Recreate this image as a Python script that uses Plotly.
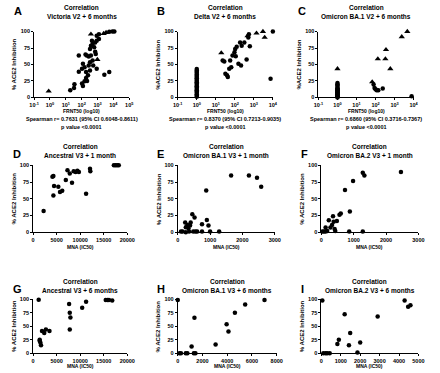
import plotly.graph_objects as go

# ---------------- DATA ----------------
# A: Victoria V2 + 6 months (FRNT50 vs % ACE2 inhibition)
victoria_circ_x = [19, 33, 35, 120, 105, 152, 220, 66, 66, 120, 105, 152, 190, 190, 251, 335, 335, 278,
                   490, 535, 890, 175, 210, 278, 385, 335, 385, 490, 615, 710, 775, 445, 890, 1230, 710,
                   890, 1230, 5490, 8700, 11500, 2700, 5490]
victoria_circ_y = [11, 14.5, 20, 17.5, 21, 24.5, 25, 39, 63.5, 51, 43.5, 46, 38.5, 29.5, 33.5, 41, 53.5, 48.5,
                   56, 48.5, 43.5, 65, 63.5, 62, 63.5, 73.5, 78.5, 81, 76, 69.5, 66, 86, 86, 88.5, 83.5,
                   93.5, 96, 99.5, 100, 100, 34.5, 38.5]
victoria_tri_x = [0.83, 980, 385, 2450, 3470]
victoria_tri_y = [9.5, 57.5, 96, 97, 98.5]

# B: Delta V2 + 6 months
delta_circ_x = [1] * 22 + [23, 28, 32, 39, 43, 51, 65, 57, 76, 96, 105, 126, 112, 155, 213, 190, 230, 316,
                            417, 513, 550, 616, 7590, 10000]
delta_circ_y = [1, 3, 5, 7, 9, 11, 13, 15, 17, 19, 21, 23, 25, 27, 29, 31, 33, 35, 37, 39, 41, 43,
                56, 54.5, 36, 33.5, 31, 43.5, 46, 56, 63.5, 68.5, 73.5, 77, 62.5, 51, 48.5, 83.5, 78.5, 83.5,
                57.5, 91, 96, 77.5, 28.5, 100]
delta_tri_x = [19.5, 468, 1380, 3020, 3720]
delta_tri_y = [67.5, 93.5, 97.5, 100, 91]

# C: Omicron BA.1 V2 + 6 months
ba1v2_circ_x = [1] * 19 + [79, 89, 100, 115, 140, 240, 7900]
ba1v2_circ_y = [0, 1, 2, 3, 4, 5, 6, 7, 8, 9, 10, 11, 12, 13, 14, 16, 18, 20, 22,
                19.5, 14.5, 12.5, 11, 11, 13.5, 2]
ba1v2_tri_x = [1, 67, 132, 330, 355, 600, 2400, 4700]
ba1v2_tri_y = [43.5, 23.5, 58.5, 58.5, 72.5, 43.5, 92, 100]

# D: Ancestral V3 + 1 month (MNA IC50)
anc1_x = [2222, 4100, 4300, 4440, 4300, 5350, 5700, 6180, 6940, 7290, 7780, 8260, 8610, 9030, 9720, 9400,
          11250, 12080, 12150, 17150, 17500, 17850, 18190]
anc1_y = [31.7, 83, 84, 69, 55, 68, 60, 62, 78, 92.7, 87.8, 74, 91, 90, 90, 92, 57.5, 95, 91, 100, 100, 100, 100]

# E: Omicron BA.1 V3 + 1 month
ba1m1_x = [100, 150, 250, 350, 230, 250, 300, 330, 380, 400, 450, 520, 480, 550, 600, 750, 880, 900, 950,
           1000, 750, 1280, 1650, 2200, 2450, 2580]
ba1m1_y = [1, 1, 0, 1, 14.6, 7.3, 11, 6, 10, 14.6, 27, 22, 1, 1, 1, 12, 62.4, 18.5, 10, 1, 1, 1, 85, 85, 81.5, 68]

# F: Omicron BA.2 V3 + 1 month
ba2m1_x = [30, 80, 130, 180, 130, 230, 280, 330, 360, 380, 410, 430, 480, 560, 600, 730, 880, 860, 980,
           1280, 1330, 1280, 2460]
ba2m1_y = [1, 1, 1, 2, 7, 18, 7, 10.7, 24, 15.6, 5, 2, 17, 26, 28, 63, 31, 1, 76.6, 88.8, 85, 1, 90]

# G: Ancestral V3 + 6 months
anc6_x = [1180, 1390, 1530, 1670, 1390, 1880, 2360, 2710, 3470, 7640, 7780, 7920, 7780, 10420, 11250,
          15420, 15800, 16100, 16800]
anc6_y = [99, 23, 20, 15, 25, 41, 37.5, 44, 41, 91, 75, 66, 44, 84, 95, 98.5, 98.5, 98.5, 97.5]

# H: Omicron BA.1 V3 + 6 months
ba1m6_x = [0, 130, 260, 650, 780, 1300, 1430, 1120, 1350, 3060, 3950, 4100, 4620, 5450, 7010]
ba1m6_y = [98.5, 0, 0, 0, 0, 0, 0, 12.6, 65.7, 16, 53.5, 40.4, 74.7, 90, 98.5]

# I: Omicron BA.2 V3 + 6 months
ba2m6_x = [50, 100, 220, 300, 430, 825, 900, 1200, 1420, 1485, 1860, 2000, 2900, 4290, 4470, 4590]
ba2m6_y = [97.5, 0, 0, 0, 0, 17, 25, 72, 15, 37.4, 1.5, 20, 68, 97.5, 86, 88.7]

panel_letters = ["A", "B", "C", "D", "E", "F", "G", "H", "I"]
panel_subtitles = ["Victoria V2 + 6 months", "Delta V2 + 6 months", "Omicron BA.1 V2 + 6 months",
                   "Ancestral V3 + 1 month", "Omicron BA.1 V3 + 1 month", "Omicron BA.2 V3 + 1 month",
                   "Ancestral V3 + 6 months", "Omicron BA.1 V3 + 6 months", "Omicron BA.2 V3 + 6 months"]
y_titles = ["% ACE2 Inhibition", "%ACE2 Inhibition", "%ACE2 Inhibition"] + ["% ACE2 Inhibition"] * 6
spearman_texts = ["Spearman r= 0.7631 (95% CI 0.6048-0.8611)",
                  "Spearman r= 0.8370 (95% CI 0.7213-0.9035)",
                  "Spearman r= 0.6860 (95% CI 0.3716-0.7367)"]
p_text = "p value <0.0001"
y_ticks = [0, 25, 50, 75, 100]
log_tickvals = [0.1, 1, 10, 100, 1000, 10000, 100000]
log_ticktext = ["10<sup>-1</sup>", "10<sup>0</sup>", "10<sup>1</sup>", "10<sup>2</sup>",
                "10<sup>3</sup>", "10<sup>4</sup>", "10<sup>5</sup>"]
lin_ranges = {"D": [0, 20000], "E": [0, 3000], "F": [0, 3000], "G": [0, 20000], "H": [0, 8000], "I": [0, 5000]}
lin_dticks = {"D": 5000, "E": 1000, "F": 1000, "G": 5000, "H": 2000, "I": 1000}

# ---------------- LAYOUT ----------------
W, H = 440, 373
FONT = "Liberation Sans"


def fx(px):
    return px / W


def fy(py):
    return 1 - py / H


# pixel boxes: x0, x1, ytop, ybottom
boxes = {
    "A": (30, 128, 29, 96), "B": (178, 276, 29, 96), "C": (323, 421, 29, 96),
    "D": (29, 126, 165, 233), "E": (178, 278, 165, 233), "F": (326, 426, 165, 233),
    "G": (29, 126, 301, 356), "H": (178, 280, 301, 356), "I": (326, 426, 301, 356),
}
row_text = {
    0: dict(letter=8, t1=5, t2=14, xt=110),
    1: dict(letter=153, t1=146, t2=155, xt=248),
    2: dict(letter=291, t1=283, t2=292, xt=369),
}

series = {
    "A": [(victoria_circ_x, victoria_circ_y, "circle"), (victoria_tri_x, victoria_tri_y, "triangle-up")],
    "B": [(delta_circ_x, delta_circ_y, "circle"), (delta_tri_x, delta_tri_y, "triangle-up")],
    "C": [(ba1v2_circ_x, ba1v2_circ_y, "circle"), (ba1v2_tri_x, ba1v2_tri_y, "triangle-up")],
    "D": [(anc1_x, anc1_y, "circle")],
    "E": [(ba1m1_x, ba1m1_y, "circle")],
    "F": [(ba2m1_x, ba2m1_y, "circle")],
    "G": [(anc6_x, anc6_y, "circle")],
    "H": [(ba1m6_x, ba1m6_y, "circle")],
    "I": [(ba2m6_x, ba2m6_y, "circle")],
}

fig = go.Figure()
layout = dict(width=W, height=H, margin=dict(l=0, r=0, t=0, b=0), showlegend=False,
              paper_bgcolor="white", plot_bgcolor="white", font=dict(family=FONT, color="black"))
annotations = []
tickfont = dict(family=FONT, size=5.5, color="black", weight="bold")

for i, L in enumerate(panel_letters):
    n = i + 1
    x0, x1, yt, yb = boxes[L]
    row = i // 3
    xa = "xaxis" if n == 1 else f"xaxis{n}"
    ya = "yaxis" if n == 1 else f"yaxis{n}"
    xr = "x" if n == 1 else f"x{n}"
    yr = "y" if n == 1 else f"y{n}"
    common = dict(showline=True, linecolor="black", linewidth=1, ticks="outside", ticklen=2, tickwidth=1,
                  tickcolor="black", showgrid=False, zeroline=False, tickfont=tickfont,
                  ticklabeloverflow="allow")
    if row == 0:
        xrange = [-1, 5] if L == "A" else [-1, 4]
        nt = 7 if L == "A" else 6
        layout[xa] = dict(common, type="log", range=xrange, tickvals=log_tickvals[:nt],
                          ticktext=log_ticktext[:nt], domain=[fx(x0), fx(x1)], anchor=yr)
    else:
        layout[xa] = dict(common, range=lin_ranges[L], dtick=lin_dticks[L], tick0=0, tickformat="d",
                          domain=[fx(x0), fx(x1)], anchor=yr)
    layout[ya] = dict(common, range=[0, 100], tickvals=y_ticks, domain=[fy(yb), fy(yt)], anchor=xr)

    for xs, ys, sym in series[L]:
        fig.add_trace(go.Scatter(x=xs, y=ys, mode="markers", xaxis=xr, yaxis=yr, cliponaxis=False,
                                 marker=dict(symbol=sym, size=4.5 if sym == "circle" else 5.5, color="black",
                                             line=dict(width=0))))

    cx = (x0 + x1) / 2
    rt = row_text[row]
    annotations.append(dict(text=L, x=fx(x0 - 23), y=fy(rt["letter"]), xref="paper", yref="paper",
                            showarrow=False, xanchor="left", yanchor="middle",
                            font=dict(family=FONT, size=11, weight="bold")))
    annotations.append(dict(text="Correlation", x=fx(cx), y=fy(rt["t1"]), xref="paper", yref="paper",
                            showarrow=False, xanchor="center", yanchor="middle",
                            font=dict(family=FONT, size=6.5, weight="bold")))
    annotations.append(dict(text=panel_subtitles[i], x=fx(cx), y=fy(rt["t2"]), xref="paper", yref="paper",
                            showarrow=False, xanchor="center", yanchor="middle",
                            font=dict(family=FONT, size=6.5, weight="bold")))
    annotations.append(dict(text=y_titles[i], x=fx(x0 - 20), y=fy((yt + yb) / 2), xref="paper", yref="paper",
                            showarrow=False, xanchor="center", yanchor="middle", textangle=-90,
                            font=dict(family=FONT, size=6, weight="bold")))
    xtitle = "FRNT50 (log10)" if row == 0 else "MNA (IC50)"
    annotations.append(dict(text=xtitle, x=fx(cx), y=fy(rt["xt"]), xref="paper", yref="paper",
                            showarrow=False, xanchor="center", yanchor="middle",
                            font=dict(family=FONT, size=5, weight="bold")))
    if row == 0:
        annotations.append(dict(text=spearman_texts[i], x=fx(cx), y=fy(118), xref="paper", yref="paper",
                                showarrow=False, xanchor="center", yanchor="middle",
                                font=dict(family=FONT, size=5.5, weight="bold")))
        annotations.append(dict(text=p_text, x=fx(cx), y=fy(126), xref="paper", yref="paper",
                                showarrow=False, xanchor="center", yanchor="middle",
                                font=dict(family=FONT, size=5.5, weight="bold")))

layout["annotations"] = annotations
fig.update_layout(**layout)
fig.write_html("out.html", config={"displayModeBar": False},
               post_script="document.body.style.margin='0px';document.body.style.padding='0px';")
